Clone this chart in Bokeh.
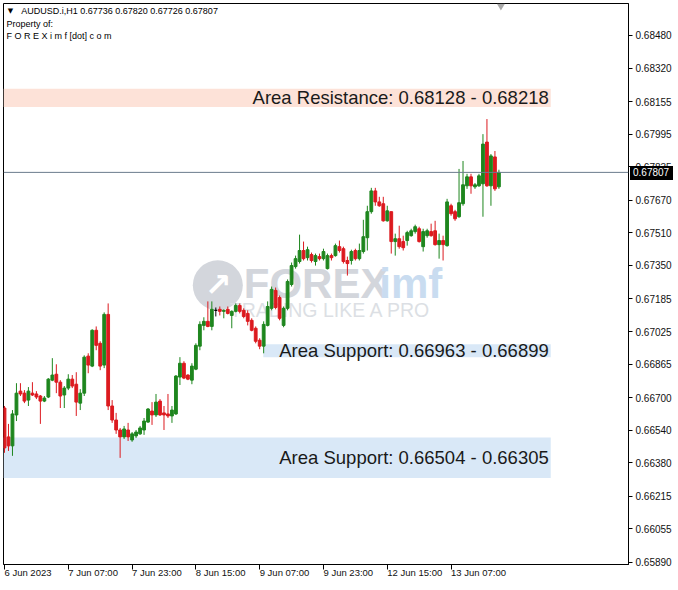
from bokeh.plotting import figure
from bokeh.models import ColumnDataSource, FixedTicker, Range1d, Span, Label, NumeralTickFormatter, Div
from bokeh.embed import file_html
from bokeh.resources import INLINE

# ---------------- data ----------------
symbol = "AUDUSD.i"
timeframe = "H1"

opens = [
    0.66649, 0.66507, 0.66463, 0.66615, 0.66732, 0.66722, 0.66688, 0.66722, 0.66718, 0.66708,
    0.66683, 0.66703, 0.66786, 0.66815, 0.66776, 0.66713, 0.66747, 0.66791, 0.66766, 0.66673,
    0.66722, 0.66904, 0.66855, 0.67031, 0.66967, 0.66860, 0.67109, 0.66659, 0.66590, 0.66541,
    0.66507, 0.66541, 0.66492, 0.66512, 0.66522, 0.66541, 0.66580, 0.66634, 0.66615, 0.66683,
    0.66625, 0.66620, 0.66610, 0.66620, 0.66801, 0.66869, 0.66811, 0.66786, 0.66840, 0.66953,
    0.67055, 0.67075, 0.67050, 0.67129, 0.67134, 0.67124, 0.67134, 0.67104, 0.67124, 0.67153,
    0.67129, 0.67114, 0.67080, 0.67041, 0.66982, 0.66953, 0.67055, 0.67139, 0.67227, 0.67192,
    0.67055, 0.67139, 0.67256, 0.67344, 0.67369, 0.67423, 0.67388, 0.67403, 0.67369, 0.67393,
    0.67383, 0.67334, 0.67398, 0.67398, 0.67442, 0.67432, 0.67374, 0.67374, 0.67423, 0.67383,
    0.67418, 0.67486, 0.67614, 0.67716, 0.67662, 0.67653, 0.67569, 0.67614, 0.67467, 0.67481,
    0.67467, 0.67472, 0.67496, 0.67516, 0.67530, 0.67442, 0.67496, 0.67516, 0.67520, 0.67452,
    0.67472, 0.67447, 0.67643, 0.67614, 0.67589, 0.67653, 0.67741, 0.67785, 0.67736, 0.67741,
    0.67751, 0.67956, 0.67741, 0.67883, 0.67736,
]
highs = [
    0.66659, 0.66571, 0.66639, 0.66771, 0.66771, 0.66737, 0.66752, 0.66776, 0.66732, 0.66713,
    0.66708, 0.66796, 0.66894, 0.66864, 0.66786, 0.66757, 0.66815, 0.66811, 0.66825, 0.66742,
    0.66908, 0.66918, 0.67036, 0.67050, 0.66977, 0.67119, 0.67163, 0.66688, 0.66625, 0.66551,
    0.66561, 0.66576, 0.66531, 0.66541, 0.66561, 0.66600, 0.66649, 0.66678, 0.66718, 0.66693,
    0.66659, 0.66718, 0.66659, 0.66811, 0.66899, 0.66879, 0.66815, 0.66869, 0.66967, 0.67075,
    0.67095, 0.67173, 0.67173, 0.67143, 0.67148, 0.67134, 0.67148, 0.67129, 0.67163, 0.67163,
    0.67139, 0.67129, 0.67090, 0.67050, 0.66992, 0.67075, 0.67173, 0.67246, 0.67241, 0.67202,
    0.67148, 0.67281, 0.67364, 0.67398, 0.67501, 0.67467, 0.67442, 0.67413, 0.67408, 0.67408,
    0.67432, 0.67408, 0.67408, 0.67457, 0.67472, 0.67442, 0.67393, 0.67427, 0.67432, 0.67457,
    0.67574, 0.67643, 0.67731, 0.67731, 0.67687, 0.67687, 0.67643, 0.67614, 0.67506, 0.67545,
    0.67496, 0.67520, 0.67530, 0.67550, 0.67540, 0.67530, 0.67530, 0.67555, 0.67569, 0.67506,
    0.67496, 0.67677, 0.67653, 0.67623, 0.67824, 0.67863, 0.67800, 0.67800, 0.67755, 0.67800,
    0.67995, 0.68069, 0.67897, 0.67912, 0.67820,
]
lows = [
    0.66429, 0.66438, 0.66414, 0.66585, 0.66708, 0.66673, 0.66659, 0.66708, 0.66693, 0.66571,
    0.66678, 0.66698, 0.66781, 0.66722, 0.66649, 0.66649, 0.66737, 0.66747, 0.66610, 0.66639,
    0.66708, 0.66820, 0.66850, 0.66933, 0.66835, 0.66845, 0.66639, 0.66576, 0.66522, 0.66404,
    0.66497, 0.66487, 0.66483, 0.66502, 0.66517, 0.66517, 0.66576, 0.66566, 0.66605, 0.66610,
    0.66541, 0.66600, 0.66576, 0.66615, 0.66762, 0.66791, 0.66786, 0.66766, 0.66835, 0.66933,
    0.67031, 0.67046, 0.67031, 0.67099, 0.67104, 0.67090, 0.67109, 0.67041, 0.67119, 0.67114,
    0.67090, 0.67055, 0.67026, 0.66967, 0.66938, 0.66918, 0.67050, 0.67129, 0.67134, 0.67080,
    0.67046, 0.67129, 0.67246, 0.67334, 0.67359, 0.67374, 0.67374, 0.67364, 0.67349, 0.67374,
    0.67374, 0.67330, 0.67374, 0.67393, 0.67413, 0.67359, 0.67300, 0.67354, 0.67374, 0.67374,
    0.67408, 0.67423, 0.67604, 0.67643, 0.67638, 0.67565, 0.67565, 0.67408, 0.67398, 0.67432,
    0.67423, 0.67447, 0.67491, 0.67506, 0.67462, 0.67418, 0.67486, 0.67491, 0.67447, 0.67383,
    0.67374, 0.67442, 0.67594, 0.67569, 0.67584, 0.67643, 0.67726, 0.67702, 0.67726, 0.67736,
    0.67589, 0.67736, 0.67643, 0.67716, 0.67726,
]
closes = [
    0.66453, 0.66463, 0.66620, 0.66722, 0.66718, 0.66683, 0.66732, 0.66713, 0.66703, 0.66683,
    0.66698, 0.66791, 0.66811, 0.66776, 0.66708, 0.66747, 0.66791, 0.66757, 0.66678, 0.66722,
    0.66899, 0.66860, 0.67031, 0.66957, 0.66855, 0.67109, 0.66659, 0.66590, 0.66541, 0.66507,
    0.66546, 0.66507, 0.66522, 0.66531, 0.66551, 0.66585, 0.66644, 0.66615, 0.66678, 0.66615,
    0.66615, 0.66610, 0.66639, 0.66806, 0.66869, 0.66796, 0.66791, 0.66855, 0.66957, 0.67060,
    0.67075, 0.67050, 0.67134, 0.67129, 0.67124, 0.67129, 0.67114, 0.67124, 0.67153, 0.67124,
    0.67099, 0.67075, 0.67031, 0.66977, 0.66953, 0.67060, 0.67148, 0.67232, 0.67143, 0.67090,
    0.67139, 0.67271, 0.67349, 0.67383, 0.67423, 0.67383, 0.67427, 0.67374, 0.67398, 0.67383,
    0.67418, 0.67398, 0.67388, 0.67447, 0.67423, 0.67369, 0.67359, 0.67418, 0.67383, 0.67423,
    0.67491, 0.67614, 0.67716, 0.67662, 0.67643, 0.67569, 0.67618, 0.67467, 0.67481, 0.67442,
    0.67437, 0.67511, 0.67520, 0.67540, 0.67467, 0.67516, 0.67520, 0.67496, 0.67452, 0.67472,
    0.67452, 0.67662, 0.67604, 0.67579, 0.67658, 0.67746, 0.67785, 0.67741, 0.67746, 0.67790,
    0.67946, 0.67741, 0.67888, 0.67726, 0.67807,
]

time_tick_bars = [0, 16, 32, 48, 64, 80, 96, 112]
time_tick_labels = ["6 Jun 2023", "7 Jun 07:00", "7 Jun 23:00", "8 Jun 15:00",
                    "9 Jun 07:00", "9 Jun 23:00", "12 Jun 15:00", "13 Jun 07:00"]

price_ticks = [0.65890, 0.66055, 0.66215, 0.66380, 0.66540, 0.66700, 0.66865, 0.67025,
               0.67185, 0.67350, 0.67510, 0.67670, 0.67835, 0.67995, 0.68155, 0.68320, 0.68480]

zone_names = ["Area Resistance", "Area Support", "Area Support"]
zone_first = [0.68128, 0.66963, 0.66504]
zone_second = [0.68218, 0.66899, 0.66305]

# ---------------- styling / layout ----------------
UP = "#1e861e"
DOWN = "#dc1a1f"
DOJI = "#000000"
ZONE_COLORS = ["#fde2d8", "#d9e8f7", "#d9e8f7"]
X0, X1 = -0.25, 156.5
Y0, Y1 = 0.65880, 0.68637
ZONE_RIGHT = 137.0
ZONE_LEFT = [X0, 64.9, X0]

W, H = 674, 586
BL, BT, BR, BB = 3, 3, 45, 20
FW, FH = W - BL - BR, H - BT - BB

n = len(closes)
bars = list(range(n))
colors = [UP if c > o else (DOWN if c < o else DOJI) for o, c in zip(opens, closes)]
src = ColumnDataSource(dict(
    x=bars, o=opens, h=highs, l=lows, c=closes,
    top=[max(o, c) for o, c in zip(opens, closes)],
    bottom=[min(o, c) for o, c in zip(opens, closes)],
    color=colors,
))

p = figure(width=W, height=H, output_backend="svg", toolbar_location=None,
           x_range=Range1d(X0, X1), y_range=Range1d(Y0, Y1),
           y_axis_location="right",
           min_border_left=BL, min_border_top=BT, min_border_right=BR, min_border_bottom=BB)
p.background_fill_color = "white"
p.border_fill_color = "white"
p.outline_line_color = "black"
p.outline_line_width = 1
p.xgrid.visible = False
p.ygrid.visible = False

# right price axis
ya = p.yaxis[0]
ya.ticker = FixedTicker(ticks=price_ticks)
ya.formatter = NumeralTickFormatter(format="0.00000")
ya.major_tick_in = 0
ya.major_tick_out = 4
ya.minor_tick_in = 0
ya.minor_tick_out = 0
ya.axis_line_color = "black"
ya.major_tick_line_color = "black"
ya.major_label_text_font = "Liberation Sans"
ya.major_label_text_font_size = "10px"
ya.major_label_text_color = "#111111"
ya.major_label_standoff = 3

# bottom time axis (labels start at their tick, as in MT4)
xa = p.xaxis[0]
xa.ticker = FixedTicker(ticks=time_tick_bars)
xa.major_label_overrides = {b: t for b, t in zip(time_tick_bars, time_tick_labels)}
xa.major_label_orientation = -0.0001
xa.major_tick_in = 0
xa.major_tick_out = 5
xa.minor_tick_in = 0
xa.minor_tick_out = 0
xa.axis_line_color = "black"
xa.major_label_text_font = "Liberation Sans"
xa.major_label_text_font_size = "9.5px"
xa.major_label_text_color = "#111111"
xa.major_label_standoff = 3

# zones
zsrc = ColumnDataSource(dict(
    left=ZONE_LEFT, right=[ZONE_RIGHT] * 3,
    bottom=[min(a, b) for a, b in zip(zone_first, zone_second)],
    top=[max(a, b) for a, b in zip(zone_first, zone_second)],
    color=ZONE_COLORS,
))
p.quad(left="left", right="right", bottom="bottom", top="top", fill_color="color",
       line_color=None, source=zsrc, level="underlay")

# watermark
wm_y = 0.67252
p.scatter(x=[53.5], y=[wm_y], size=50, marker="circle", fill_color="#d3d6dc",
          line_color=None, level="underlay")
p.add_layout(Label(x=53.6, y=wm_y, text="\u2197", text_align="center", text_baseline="middle",
                   text_font="DejaVu Sans", text_font_size="32px", text_font_style="bold",
                   text_color="white", level="underlay"))
p.add_layout(Label(x=60.0, y=wm_y + 0.0001, text="FOREX", text_align="left", text_baseline="middle",
                   text_font="Liberation Sans", text_font_size="42px", text_font_style="bold",
                   text_color="#d3d6dc", level="underlay"))
p.add_layout(Label(x=94.0, y=wm_y + 0.0001, text="imf", text_align="left", text_baseline="middle",
                   text_font="Liberation Sans", text_font_size="42px", text_font_style="bold",
                   text_color="#c9dcf0", level="underlay"))
p.add_layout(Label(x=56.5, y=wm_y - 0.00120, text="TRADING LIKE A PRO", text_align="left",
                   text_baseline="middle", text_font="Liberation Sans", text_font_size="19.5px",
                   text_color="#dcdfe4", level="underlay"))

# candles
p.segment(x0="x", y0="h", x1="x", y1="l", line_color="color", line_width=1, source=src)
p.vbar(x="x", width=0.7, top="top", bottom="bottom", fill_color="color",
       line_color="color", line_width=1, source=src)

# current price line
p.add_layout(Span(location=closes[-1], dimension="width", line_color="#6a7b8c", line_width=1))

# zone labels
for name, a, b, lo, hi in zip(zone_names, zone_first, zone_second, zsrc.data["bottom"], zsrc.data["top"]):
    p.add_layout(Label(x=ZONE_RIGHT - 0.5, y=(lo + hi) / 2, text=f"{name}: {a:.5f} - {b:.5f}",
                       text_align="right", text_baseline="middle", text_font="Liberation Sans",
                       text_font_size="18.5px", text_color="#1a1a1a"))

# header
hdr = f"{symbol},{timeframe}  {opens[-1]:.5f} {highs[-1]:.5f} {lows[-1]:.5f} {closes[-1]:.5f}"
p.add_layout(Label(x=0.8, y=0.68598, text="\u25bc", text_baseline="middle", text_font="DejaVu Sans",
                   text_font_size="7px", text_color="black"))
p.add_layout(Label(x=4.2, y=0.68598, text=hdr, text_baseline="middle", text_font="Liberation Sans",
                   text_font_size="9px", text_color="black"))
p.add_layout(Label(x=0.5, y=0.68536, text="Property of:", text_baseline="middle",
                   text_font="Liberation Sans", text_font_size="9px", text_color="black"))
p.add_layout(Label(x=0.5, y=0.68475, text="F O R E X i m f [dot] c o m", text_baseline="middle",
                   text_font="Liberation Sans", text_font_size="9px", text_color="black"))

# shift marker
p.scatter(x=[n - 0.5], y=[Y1 - 0.00012], marker="inverted_triangle", size=8,
          fill_color="#a8a8a8", line_color=None)

# current price tag over the price axis (HTML element attached to the figure)
tag_top = BT + (Y1 - closes[-1]) / (Y1 - Y0) * FH - 7
tag_left = BL + FW + 1
tag = Div(text=f"{closes[-1]:.5f}", margin=(0, 0, 0, 0),
          styles={"position": "absolute", "left": f"{tag_left:.1f}px", "top": f"{tag_top:.1f}px",
                  "background-color": "black", "color": "white", "font-family": "Liberation Sans",
                  "font-size": "10px", "line-height": "14px", "height": "14px",
                  "padding": "0px 4px 0px 3px", "z-index": "10", "white-space": "nowrap"})
if hasattr(p, "elements"):
    p.elements = [tag]

open("out.html", "w").write(file_html(p, INLINE))
